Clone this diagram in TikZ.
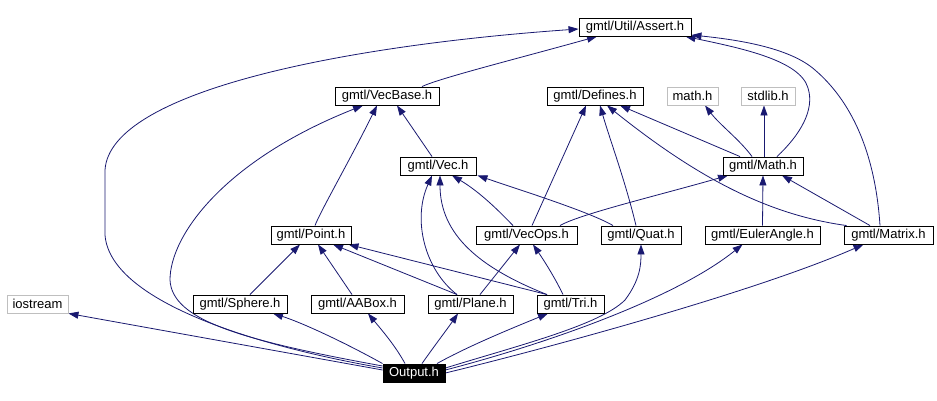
\documentclass[tikz,border=0pt]{standalone}
\usepackage{fontspec}
\setmainfont{Liberation Sans}
\usetikzlibrary{arrows.meta}
\pgfdeclarelayer{background}
\pgfsetlayers{background,main}
\definecolor{navy}{RGB}{25,25,112}
\definecolor{lightgray}{RGB}{191,191,191}
\tikzset{
  box/.style={draw=black, fill=white, line width=0.9pt, minimum height=18pt, inner sep=0pt, font=\fontsize{13}{15}\selectfont},
  gbox/.style={box, draw=lightgray},
  outbox/.style={box, fill=black, text=white},
  edge/.style={draw=navy, line width=0.8pt, -{Triangle[length=10pt,width=7pt]}, fill=none},
}
\begin{document}
\begin{tikzpicture}[x=1pt,y=-1pt]
\useasboundingbox (0,0) rectangle (937,401);
% nodes
\node[box, minimum width=112pt] (assert) at (635,27) {gmtl/Util/Assert.h};
\node[box, minimum width=104pt] (vecbase) at (387,96) {gmtl/VecBase.h};
\node[box, minimum width=96pt] (defines) at (595,96) {gmtl/Defines.h};
\node[gbox, minimum width=51pt] (mathh) at (692.5,96) {math.h};
\node[gbox, minimum width=54pt] (stdlib) at (768,96) {stdlib.h};
\node[box, minimum width=76pt] (vec) at (438,166) {gmtl/Vec.h};
\node[box, minimum width=80pt] (math) at (763,166) {gmtl/Math.h};
\node[box, minimum width=80pt] (point) at (311,235) {gmtl/Point.h};
\node[box, minimum width=101pt] (vecops) at (526.5,235) {gmtl/VecOps.h};
\node[box, minimum width=80pt] (quat) at (641,235) {gmtl/Quat.h};
\node[box, minimum width=115pt] (euler) at (762.5,235) {gmtl/EulerAngle.h};
\node[box, minimum width=89pt] (matrix) at (888.5,235) {gmtl/Matrix.h};
\node[gbox, minimum width=61pt] (iostream) at (37.5,304) {iostream};
\node[box, minimum width=94pt] (sphere) at (240,304) {gmtl/Sphere.h};
\node[box, minimum width=93pt] (aabox) at (357.5,304) {gmtl/AABox.h};
\node[box, minimum width=85pt] (plane) at (470.5,304) {gmtl/Plane.h};
\node[box, minimum width=67pt] (tri) at (570.5,304) {gmtl/Tri.h};
\node[outbox, minimum width=62pt] (output) at (414,373) {Output.h};

\begin{pgfonlayer}{background}
% Output.h edges
\draw[edge] ([yshift=3pt]output.west) -- (iostream.south east);
\draw[edge] (output.north west) .. controls (340,340) and (300,322) .. ([xshift=33pt]sphere.south);
\draw[edge] ([xshift=-9pt]output.north) .. controls (395,345) and (380,328) .. ([xshift=10.5pt]aabox.south);
\draw[edge] ([xshift=8pt]output.north) .. controls (435,345) and (448,328) .. ([xshift=-12.5pt]plane.south);
\draw[edge] ([xshift=23pt]output.north) .. controls (470,345) and (520,325) .. ([xshift=-22.5pt]tri.south);
\draw[edge] ([yshift=5pt]output.east) .. controls (520,345) and (600,325) .. (625,300) .. controls (640,280) and (641,265) .. (quat.south);
\draw[edge] ([yshift=3pt]output.east) .. controls (560,340) and (680,295) .. ([xshift=-20pt]euler.south);
\draw[edge] (output.east) .. controls (560,345) and (760,290) .. ([xshift=-25pt]matrix.south);
\draw[edge] ([yshift=7pt]output.west) .. controls (240,340) and (172,320) .. (170,280) .. controls (170,235) and (225,160) .. ([xshift=-24pt]vecbase.south);
\draw[edge] ([yshift=5pt]output.west) .. controls (250,345) and (110,300) .. (105,235) -- (105,170) .. controls (110,90) and (350,45) .. ([yshift=-2pt]assert.west);

% Point
\draw[edge] ([xshift=10pt]sphere.north) -- ([xshift=-11pt]point.south);
\draw[edge] ([xshift=-5.5pt]aabox.north) -- ([xshift=7pt]point.south);
\draw[edge] ([xshift=-13.5pt]plane.north) -- ([xshift=22pt]point.south);
\draw[edge] ([xshift=-23.5pt]tri.north) -- ([xshift=-3pt]point.south east);

% Vec
\draw[edge] ([xshift=-13.5pt]plane.north) .. controls (425,270) and (412,220) .. ([xshift=-6pt]vec.south);
\draw[edge] ([xshift=-23.5pt]tri.north) .. controls (480,268) and (440,235) .. ([xshift=2pt]vec.south);
\draw[edge] ([xshift=-13.5pt]vecops.north) .. controls (500,212) and (480,192) .. ([xshift=14pt]vec.south);
\draw[edge] ([xshift=-28pt]quat.north) .. controls (590,212) and (520,190) .. ([xshift=1pt]vec.south east);

% VecOps
\draw[edge] ([xshift=9.5pt]plane.north) -- ([xshift=-6.5pt]vecops.south);
\draw[edge] ([xshift=-7.5pt]tri.north) .. controls (555,278) and (545,262) .. ([xshift=6.5pt]vecops.south);

% VecBase
\draw[edge] ([xshift=4pt]point.north) .. controls (320,212) and (350,160) .. ([xshift=-10pt]vecbase.south);
\draw[edge] ([xshift=-6pt]vec.north) -- ([xshift=10pt]vecbase.south);
\draw[edge] ([xshift=35pt]vecbase.north) .. controls (440,78) and (520,58) .. ([xshift=-38pt]assert.south);

% Defines
\draw[edge] ([xshift=5.5pt]vecops.north) -- ([xshift=-9pt]defines.south);
\draw[edge] ([xshift=-5pt]quat.north) .. controls (625,180) and (610,140) .. ([xshift=5pt]defines.south);
\draw[edge] ([xshift=3pt]matrix.north west) .. controls (770,215) and (700,180) .. ([xshift=12pt]defines.south);
\draw[edge] ([xshift=-23pt]math.north) -- ([xshift=25pt]defines.south);

% Math
\draw[edge] ([xshift=33.5pt]vecops.north) .. controls (580,214) and (660,195) .. ([xshift=-35pt]math.south);
\draw[edge] (euler.north) -- (math.south);
\draw[edge] ([xshift=-18.5pt]matrix.north) -- ([xshift=19pt]math.south);
\draw[edge] ([xshift=-11pt]math.north) .. controls (740,140) and (720,125) .. ([xshift=12.5pt]mathh.south);
\draw[edge] ([xshift=1pt]math.north) -- ([xshift=-4pt]stdlib.south);
\draw[edge] ([xshift=14pt]math.north) .. controls (800,135) and (815,110) .. (808,88) .. controls (800,60) and (740,48) .. ([xshift=-6pt]assert.south east);
\draw[edge] ([xshift=-8.5pt]matrix.north) .. controls (875,150) and (850,100) .. (815,70) .. controls (790,48) and (740,40) .. ([yshift=-8pt]assert.east);
\end{pgfonlayer}
\end{tikzpicture}
\end{document}
